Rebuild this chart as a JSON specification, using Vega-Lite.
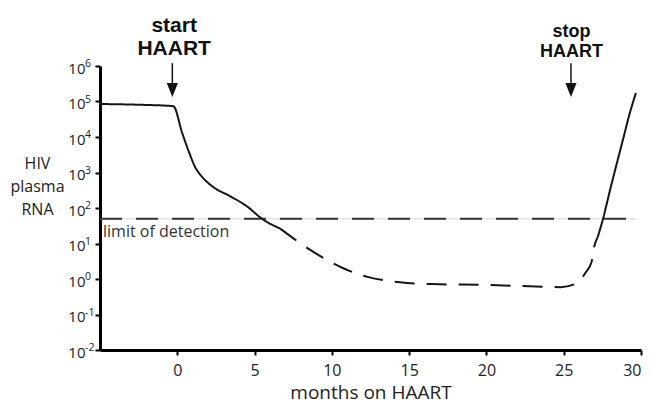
{
  "$schema": "https://vega.github.io/schema/vega-lite/v6.json",
  "width": 541,
  "height": 284,
  "autosize": "none",
  "padding": {"left": 100, "top": 66, "right": 10, "bottom": 54},
  "config": {
    "view": {"stroke": null},
    "axis": {
      "grid": false,
      "domainColor": "#000",
      "domainWidth": 3,
      "tickColor": "#000",
      "tickWidth": 2,
      "tickSize": 5,
      "labelFont": "Open Sans",
      "labelColor": "#222",
      "titleFont": "Open Sans",
      "titleColor": "#222",
      "titleFontWeight": "normal"
    }
  },
  "datasets": {
    "curve": [
      {"month": -5, "rna": 85000, "segment": "a"},
      {"month": -2.5, "rna": 81000, "segment": "a"},
      {"month": -0.26, "rna": 74000, "segment": "a"},
      {"month": 0.32, "rna": 12882, "segment": "a"},
      {"month": 0.71, "rna": 4266, "segment": "a"},
      {"month": 1.16, "rna": 1413, "segment": "a"},
      {"month": 1.62, "rna": 741, "segment": "a"},
      {"month": 2.33, "rna": 389, "segment": "a"},
      {"month": 3.43, "rna": 214, "segment": "a"},
      {"month": 4.5, "rna": 112, "segment": "a"},
      {"month": 5.5, "rna": 49, "segment": "a"},
      {"month": 6.66, "rna": 26.3, "segment": "a"},
      {"month": 6.66, "rna": 26.3, "segment": "b"},
      {"month": 8.6, "rna": 6.6, "segment": "b"},
      {"month": 10.7, "rna": 2.04, "segment": "b"},
      {"month": 12.3, "rna": 1.15, "segment": "b"},
      {"month": 14.4, "rna": 0.81, "segment": "b"},
      {"month": 16.5, "rna": 0.72, "segment": "b"},
      {"month": 20, "rna": 0.68, "segment": "b"},
      {"month": 24, "rna": 0.6, "segment": "b"},
      {"month": 24.8, "rna": 0.59, "segment": "b"},
      {"month": 25.9, "rna": 0.78, "segment": "b"},
      {"month": 26.4, "rna": 1.48, "segment": "b"},
      {"month": 26.8, "rna": 3.0, "segment": "b"},
      {"month": 26.95, "rna": 7.4, "segment": "b"},
      {"month": 27.2, "rna": 15.1, "segment": "b"},
      {"month": 27.2, "rna": 15.1, "segment": "c"},
      {"month": 27.54, "rna": 49, "segment": "c"},
      {"month": 28.0, "rna": 324, "segment": "c"},
      {"month": 28.83, "rna": 8318, "segment": "c"},
      {"month": 29.28, "rna": 47863, "segment": "c"},
      {"month": 29.67, "rna": 173780, "segment": "c"}
    ],
    "lod": [{"x0": -5, "x1": 29.7, "rna": 50, "labelRna": 15, "label": "limit of detection"}],
    "ticks": [
      {"rna": 0.01, "exp": "-2"},
      {"rna": 0.1, "exp": "-1"},
      {"rna": 1, "exp": "0"},
      {"rna": 10, "exp": "1"},
      {"rna": 100, "exp": "2"},
      {"rna": 1000, "exp": "3"},
      {"rna": 10000, "exp": "4"},
      {"rna": 100000, "exp": "5"},
      {"rna": 1000000, "exp": "6"}
    ],
    "events": [
      {"month": -0.32, "top": 1200000, "head": 211000, "textX": -0.2, "textY": 9100000, "text": ["start", "HAART"], "event": "start"},
      {"month": 25.47, "top": 1200000, "head": 211000, "textX": 25.5, "textY": 6600000, "text": ["stop", "HAART"], "event": "stop"}
    ]
  },
  "layer": [
    {
      "data": {"name": "lod"},
      "mark": {"type": "rule", "color": "#e2e2e2", "strokeWidth": 1.5},
      "encoding": {
        "x": {"field": "x0", "type": "quantitative"},
        "x2": {"field": "x1"},
        "y": {"field": "rna", "type": "quantitative"}
      }
    },
    {
      "data": {"name": "lod"},
      "mark": {"type": "rule", "color": "#333", "strokeWidth": 2, "strokeDash": [22, 14]},
      "encoding": {
        "x": {"field": "x0", "type": "quantitative"},
        "x2": {"field": "x1"},
        "y": {"field": "rna", "type": "quantitative"}
      }
    },
    {
      "data": {"name": "lod"},
      "mark": {"type": "text", "align": "left", "baseline": "alphabetic", "dx": 3, "font": "Open Sans", "fontSize": 16, "color": "#333"},
      "encoding": {
        "x": {"field": "x0", "type": "quantitative"},
        "y": {"field": "labelRna", "type": "quantitative"},
        "text": {"field": "label"}
      }
    },
    {
      "data": {"name": "ticks"},
      "mark": {"type": "text", "align": "left", "baseline": "alphabetic", "dx": -15, "dy": 1, "font": "Open Sans", "fontSize": 10.5, "color": "#222", "clip": false},
      "encoding": {
        "x": {"datum": -5, "type": "quantitative"},
        "y": {"field": "rna", "type": "quantitative"},
        "text": {"field": "exp"}
      }
    },
    {
      "data": {"name": "curve"},
      "mark": {"type": "line", "interpolate": "monotone", "color": "#151515", "strokeWidth": 2},
      "encoding": {
        "x": {
          "field": "month", "type": "quantitative",
          "scale": {"domain": [-5, 30], "nice": false, "zero": false},
          "axis": {
            "values": [0, 5, 10, 15, 20, 25, 30],
            "labelFontSize": 16,
            "labelPadding": 7,
            "title": "months on HAART",
            "titleFontSize": 19,
            "titlePadding": 5
          }
        },
        "y": {
          "field": "rna", "type": "quantitative",
          "scale": {"type": "log", "domain": [0.01, 1000000], "nice": false},
          "axis": {
            "values": [0.01, 0.1, 1, 10, 100, 1000, 10000, 100000, 1000000],
            "labelExpr": "'10'",
            "labelFontSize": 15,
            "labelPadding": 10,
            "labelOffset": 2,
            "title": ["HIV", "plasma", "RNA"],
            "titleAngle": 0,
            "titleAlign": "center",
            "titleBaseline": "alphabetic",
            "titleX": -63,
            "titleY": 102,
            "titleFontSize": 16,
            "titleLineHeight": 23
          }
        },
        "strokeDash": {
          "field": "segment", "type": "nominal",
          "scale": {"domain": ["a", "b", "c"], "range": [[1, 0], [20, 12], [1, 0]]},
          "legend": null
        }
      }
    },
    {
      "data": {"name": "events"},
      "mark": {"type": "rule", "color": "#111", "strokeWidth": 1.5},
      "encoding": {
        "x": {"field": "month", "type": "quantitative"},
        "y": {"field": "top", "type": "quantitative"},
        "y2": {"field": "head"}
      }
    },
    {
      "data": {"name": "events"},
      "mark": {"type": "point", "shape": "M0,1L-0.8,-1L0.8,-1Z", "filled": true, "color": "#111", "size": 196, "opacity": 1},
      "encoding": {
        "x": {"field": "month", "type": "quantitative"},
        "y": {"field": "head", "type": "quantitative"}
      }
    },
    {
      "data": {"name": "events"},
      "mark": {"type": "text", "align": "center", "baseline": "alphabetic", "font": "Liberation Sans", "fontWeight": "bold", "color": "#111"},
      "encoding": {
        "x": {"field": "textX", "type": "quantitative"},
        "y": {"field": "textY", "type": "quantitative"},
        "text": {"field": "text"},
        "size": {"field": "event", "type": "nominal", "scale": {"domain": ["start", "stop"], "range": [21, 18]}, "legend": null}
      }
    }
  ]
}
